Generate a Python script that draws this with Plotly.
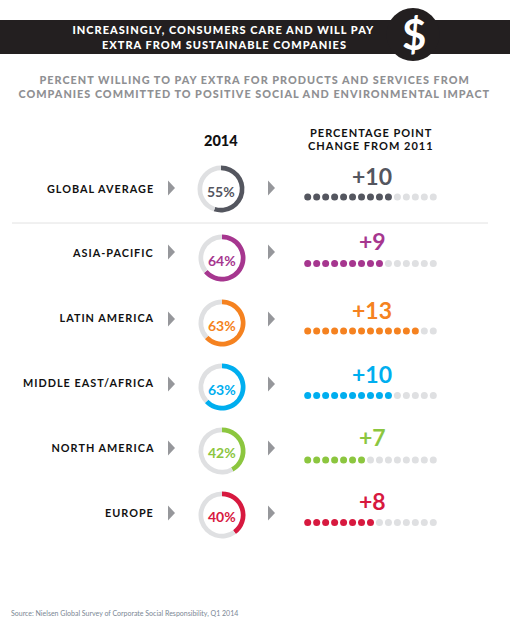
import plotly.graph_objects as go

# Regional figures
regions = ["GLOBAL AVERAGE", "ASIA-PACIFIC", "LATIN AMERICA", "MIDDLE EAST/AFRICA", "NORTH AMERICA", "EUROPE"]
share_2014 = [55, 64, 63, 63, 42, 40]
change_from_2011 = [10, 9, 13, 10, 7, 8]
colors = ["#54565f", "#a6368f", "#f58220", "#00aeef", "#8cc63f", "#d7193f"]

# Page geometry in pixels
W, H = 510, 622
TOTAL_DOTS = 15
RING_X = [221, 222, 222, 222, 222, 222]
RING_Y = [189, 258, 323, 387, 451, 515]
RING_R = 23.5
LABEL_Y = [188, 252, 317, 382, 447, 512]
ARROW_Y = [188, 252, 319, 384, 448, 513]
DOT_Y = [197, 263.5, 331, 395.5, 460, 522.5]
NUM_Y = [176, 241, 310, 374, 437, 501]
PCT_Y = [191.5, 260, 325, 389, 452, 516.5]
DOT_FIRST_X, DOT_STEP = 307.7, 8.97
TRACK = "#dfe0e2"
FONT = "Lato"
TRACKING = 1.0

fig = go.Figure()

# Rings: one pie per region, placed with its own paper domain
for i, region in enumerate(regions):
    x0, x1 = (RING_X[i] - RING_R) / W, (RING_X[i] + RING_R) / W
    y0, y1 = 1 - (RING_Y[i] + RING_R) / H, 1 - (RING_Y[i] - RING_R) / H
    fig.add_trace(go.Pie(
        values=[share_2014[i], 100 - share_2014[i]],
        labels=[region, "other"],
        domain=dict(x=[x0, x1], y=[y0, y1]),
        hole=0.8, sort=False, direction="clockwise", rotation=0,
        marker=dict(colors=[colors[i], TRACK], line=dict(width=0)),
        textinfo="none", showlegend=False, hoverinfo="skip",
    ))

# Dot scales: filled dots for the change, pale dots for the remainder
for i, region in enumerate(regions):
    filled = change_from_2011[i]
    for idx, col in ((list(range(filled, TOTAL_DOTS)), TRACK), (list(range(filled)), colors[i])):
        fig.add_trace(go.Scatter(
            x=idx, y=[DOT_Y[i]] * len(idx), xaxis="x2", yaxis="y", mode="markers",
            marker=dict(size=7, color=col, line=dict(width=0)),
            showlegend=False, hoverinfo="skip",
        ))

shapes = [
    dict(type="rect", x0=0, x1=W, y0=20, y1=54, fillcolor="#231f20", line_width=0, layer="below"),
    dict(type="circle", x0=386.5, x1=439.5, y0=8, y1=61, fillcolor="#231f20", line_width=0, layer="below"),
    dict(type="line", x0=12, x1=488, y0=223, y1=223, line=dict(color="#e2e2e2", width=1), layer="below"),
]
for ay in ARROW_Y:
    for ax in (168, 268):
        shapes.append(dict(type="path", path=f"M{ax},{ay-7.5} L{ax+7},{ay} L{ax},{ay+7.5} Z",
                           fillcolor="#96979b", line_width=0, layer="below"))


def note(x, y, text, size, color, weight=700):
    return dict(x=x, y=y, xref="x", yref="y", text=text, showarrow=False, xanchor="center", yanchor="middle",
                font=dict(family=FONT, size=size, color=color, weight=weight))


annotations = [
    note(224, 29.5, "INCREASINGLY, CONSUMERS CARE AND WILL PAY", 11, "#ffffff", 900),
    note(224, 44, "EXTRA FROM SUSTAINABLE COMPANIES", 11, "#ffffff", 900),
    note(413.5, 34, "$", 42, "#ffffff", 700),
    note(254.5, 79, "PERCENT WILLING TO PAY EXTRA FOR PRODUCTS AND SERVICES FROM", 10.85, "#8f9093", 900),
    note(254.5, 93, "COMPANIES COMMITTED TO POSITIVE SOCIAL AND ENVIRONMENTAL IMPACT", 10.85, "#8f9093", 900),
    note(221, 140.5, "2014", 14.5, "#111111", 900),
    note(371, 132, "PERCENTAGE POINT", 11, "#111111", 700),
    note(371, 145.5, "CHANGE FROM 2011", 11, "#111111", 700),
    dict(x=8.5, y=613.5, xref="x", yref="y", text="Source: Nielsen Global Survey of Corporate Social Responsibility, Q1 2014",
         showarrow=False, xanchor="left", yanchor="middle", font=dict(family=FONT, size=7, color="#7b8794")),
]
for i, region in enumerate(regions):
    # Tracking grows the text about its centre, so pull the box in by half of it
    annotations.append(dict(note(156 - TRACKING * len(region) / 2, LABEL_Y[i], region, 10.85, "#111111", 700),
                            xanchor="right"))
    annotations.append(note(RING_X[i], PCT_Y[i], f"{share_2014[i]}%", 14, colors[i], 700))
    annotations.append(note(372, NUM_Y[i], f"+{change_from_2011[i]}", 23, colors[i], 700))

# Index axis for the dots, scaled so one unit equals one dot pitch
left = DOT_FIRST_X - DOT_STEP
right = DOT_FIRST_X + DOT_STEP * TOTAL_DOTS
fig.update_layout(
    width=W, height=H, margin=dict(l=0, r=0, t=0, b=0, pad=0),
    paper_bgcolor="#ffffff", plot_bgcolor="rgba(0,0,0,0)",
    xaxis=dict(range=[0, W], domain=[0, 1], visible=False, fixedrange=True),
    xaxis2=dict(range=[-1, TOTAL_DOTS], domain=[left / W, right / W], visible=False, fixedrange=True, anchor="y"),
    yaxis=dict(range=[H, 0], domain=[0, 1], visible=False, fixedrange=True),
    shapes=shapes, annotations=annotations,
)

# Tracked capitals for the headings and row labels
tracking = """
document.querySelectorAll('.annotation-text').forEach(function (t) {
  var s = t.textContent;
  if (s === s.toUpperCase() && s.length > 5) { t.style.letterSpacing = '%spx'; }
});
""" % TRACKING
fig.write_html("out.html", post_script=tracking, config=dict(displayModeBar=False))
